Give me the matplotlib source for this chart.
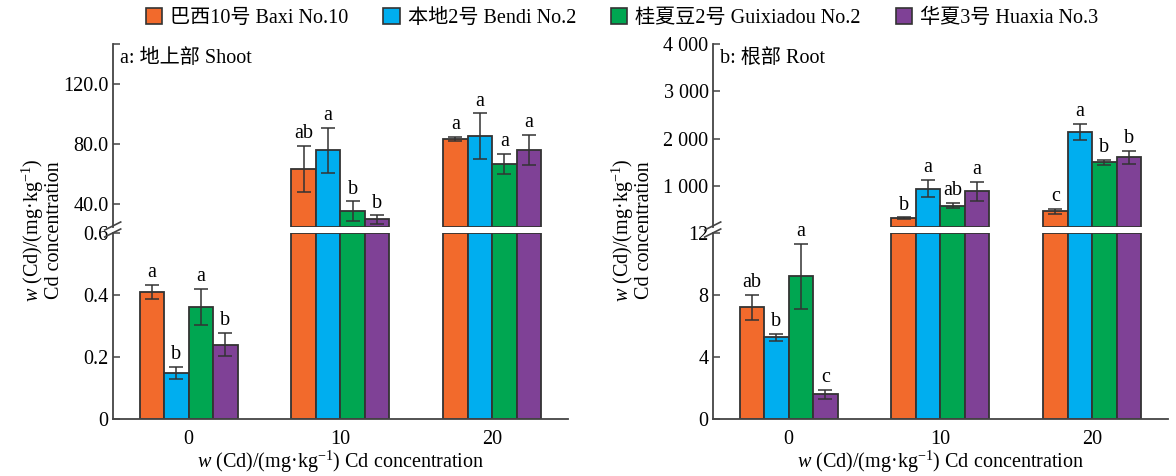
import numpy as np
import matplotlib.pyplot as plt
from matplotlib.patches import Patch
from matplotlib.lines import Line2D

plt.rcParams['font.family'] = ['Liberation Serif', 'Noto Sans CJK SC']
plt.rcParams['mathtext.fontset'] = 'custom'
plt.rcParams['mathtext.rm'] = 'Liberation Serif'
plt.rcParams['mathtext.it'] = 'Liberation Serif:italic'
plt.rcParams['font.size'] = 14.5

# data
cd_levels = ['0', '10', '20']
cultivars = ['巴西10号 Baxi No.10', '本地2号 Bendi No.2',
             '桂夏豆2号 Guixiadou No.2', '华夏3号 Huaxia No.3']
colors = ['#F26A2C', '#00AEEF', '#00A651', '#7F4196']

shoot_baxi = [0.41, 63.7, 83.7]
shoot_bendi = [0.149, 76.0, 85.3]
shoot_guixiadou = [0.362, 35.7, 66.9]
shoot_huaxia = [0.24, 30.0, 76.2]
shoot_err_baxi = [0.022, 15.3, 1.3]
shoot_err_bendi = [0.02, 15.0, 15.2]
shoot_err_guixiadou = [0.058, 6.4, 6.5]
shoot_err_huaxia = [0.037, 2.7, 10.0]
shoot_letters = [['a', 'ab', 'a'], ['b', 'a', 'a'], ['a', 'b', 'a'], ['b', 'b', 'a']]

root_baxi = [7.2, 320, 467]
root_bendi = [5.27, 943, 2143]
root_guixiadou = [9.2, 585, 1498]
root_huaxia = [1.6, 888, 1604]
root_err_baxi = [0.8, 20, 50]
root_err_bendi = [0.22, 180, 165]
root_err_guixiadou = [2.1, 55, 50]
root_err_huaxia = [0.28, 200, 135]
root_letters = [['ab', 'b', 'c'], ['b', 'a', 'a'], ['a', 'ab', 'b'], ['c', 'a', 'b']]

W, H = 1176, 476
fig = plt.figure(figsize=(W / 100, H / 100), dpi=100)

spine_c = '#444444'
edge_c = '#333333'
bar_w = 0.1615


def fig_rect(x0, x1, top, bottom):
    return [x0 / W, 1 - bottom / H, (x1 - x0) / W, (bottom - top) / H]


def style(ax, bottom_spine):
    for s in ['top', 'right']:
        ax.spines[s].set_visible(False)
    ax.spines['bottom'].set_visible(bottom_spine)
    for s in ['left', 'bottom']:
        ax.spines[s].set_color(spine_c)
        ax.spines[s].set_linewidth(1.3)
    ax.tick_params(direction='in', length=5, width=1.1, color=spine_c, pad=3)
    ax.set_xlim(-0.5, 2.5)


def panel(x0, x1, means, errs, letters, lo_top, hi_lim, lo_ticks, lo_labels,
          hi_ticks, hi_labels, title, top_minor=None):
    ax_hi = fig.add_axes(fig_rect(x0, x1, 43.5, 227))
    ax_lo = fig.add_axes(fig_rect(x0, x1, 233, 419))
    style(ax_hi, False)
    style(ax_lo, True)
    ax_lo.set_ylim(0, lo_top)
    ax_hi.set_ylim(*hi_lim)
    x = np.arange(len(cd_levels))
    for i, (m, e, c) in enumerate(zip(means, errs, colors)):
        xs = x + (i - 1.5) * bar_w
        for j in range(len(cd_levels)):
            if m[j] <= lo_top:
                ax = ax_lo
                ax_lo.bar(xs[j], m[j], bar_w, color=c, edgecolor=edge_c, lw=1.3, zorder=2)
            else:
                ax = ax_hi
                ax_lo.bar(xs[j], lo_top, bar_w, color=c, edgecolor=edge_c, lw=1.3, zorder=2)
                ax_hi.bar(xs[j], m[j] - hi_lim[0], bar_w, bottom=hi_lim[0], color=c,
                          edgecolor=edge_c, lw=1.3, zorder=2)
            ax.errorbar(xs[j], m[j], yerr=e[j], color='#333333', capsize=5, lw=1.1,
                        capthick=1.1, zorder=3)
            ax.annotate(letters[i][j], (xs[j], m[j] + e[j]), xytext=(0, 2),
                        textcoords='offset points', ha='center', va='bottom')
    ax_hi.set_xticks([])
    ax_lo.set_xticks(x)
    ax_lo.set_xticklabels(cd_levels)
    ax_lo.tick_params(axis='x', length=0, pad=8)
    ax_lo.set_yticks(lo_ticks)
    ax_lo.set_yticklabels(lo_labels)
    ax_hi.set_yticks(hi_ticks)
    ax_hi.set_yticklabels(hi_labels)
    if top_minor is not None:
        ax_hi.set_yticks([top_minor], minor=True)
        ax_hi.tick_params(which='minor', direction='in', length=5, width=1.1, color=spine_c)
    ax_hi.text(0.015, 0.92, title, transform=ax_hi.transAxes, ha='left', va='center')
    ax_lo.set_xlabel(r'$\it{w}$ (Cd)/(mg·kg$^{-1}$) Cd concentration', labelpad=0)
    # break marks on the y axis
    for yb in (226, 233):
        fig.add_artist(Line2D([(x0 - 8) / W, (x0 + 8) / W],
                              [1 - (yb + 4) / H, 1 - (yb - 4) / H],
                              color=spine_c, lw=1.2))
    return ax_hi, ax_lo


panel(112.7, 568,
      [shoot_baxi, shoot_bendi, shoot_guixiadou, shoot_huaxia],
      [shoot_err_baxi, shoot_err_bendi, shoot_err_guixiadou, shoot_err_huaxia],
      shoot_letters, 0.6, (25, 147),
      [0, 0.2, 0.4, 0.6], ['0', '0.2', '0.4', '0.6'],
      [40, 80, 120], ['40.0', '80.0', '120.0'], 'a: 地上部 Shoot', top_minor=147)

panel(712.7, 1168,
      [root_baxi, root_bendi, root_guixiadou, root_huaxia],
      [root_err_baxi, root_err_bendi, root_err_guixiadou, root_err_huaxia],
      root_letters, 12, (140, 4000),
      [0, 4, 8, 12], ['0', '4', '8', '12'],
      [1000, 2000, 3000, 4000], ['1 000', '2 000', '3 000', '4 000'], 'b: 根部 Root')

ylab = '$\\it{w}$ (Cd)/(mg·kg$^{-1}$)\nCd concentration'
fig.text(42 / W, 1 - 230 / H, ylab, rotation=90, ha='center', va='center', linespacing=0.95)
fig.text(632 / W, 1 - 230 / H, ylab, rotation=90, ha='center', va='center', linespacing=0.95)

handles = [Patch(facecolor=c, edgecolor=edge_c, lw=1.2) for c in colors]
fig.legend(handles, cultivars, loc='center', bbox_to_anchor=(0.529, 0.962), ncol=4,
           frameon=False, handlelength=0.8, handleheight=0.8, handletextpad=0.4,
           columnspacing=1.75, borderaxespad=0)

fig.savefig('out.png', dpi=100)
